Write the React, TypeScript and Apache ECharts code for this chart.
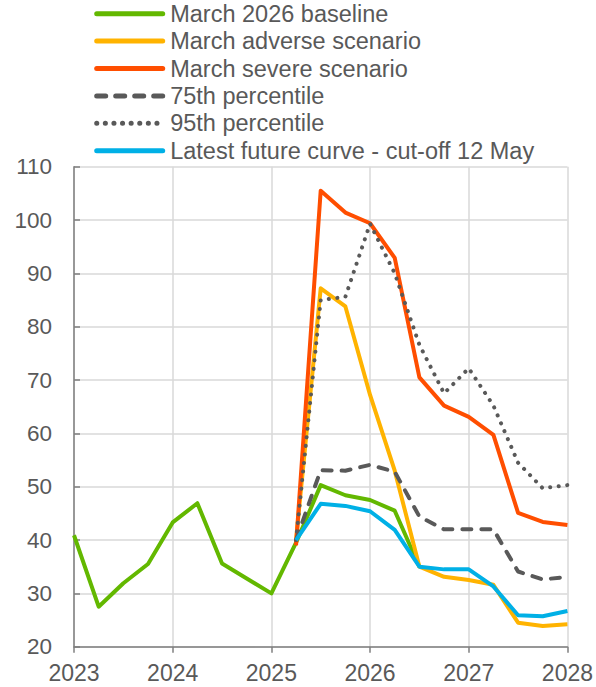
import React, { useEffect, useRef } from "react";
import * as echarts from "echarts";

const xQuarters = [
  2023, 2023.25, 2023.5, 2023.75, 2024, 2024.25, 2024.5, 2024.75, 2025, 2025.25,
  2025.5, 2025.75, 2026, 2026.25, 2026.5, 2026.75, 2027, 2027.25, 2027.5, 2027.75, 2028,
];

const baseline = [40.9, 27.5, 31.9, 35.5, 43.3, 46.9, 35.6, 32.8, 30.0, 39.5, 50.3, 48.4, 47.5, 45.5, 35.0, null, null, null, null, null, null];
const adverse = [null, null, null, null, null, null, null, null, null, 40.0, 87.2, 83.8, 67.2, 53.0, 35.0, 33.1, 32.5, 31.6, 24.5, 23.9, 24.2];
const severe = [null, null, null, null, null, null, null, null, null, 39.0, 105.5, 101.4, 99.4, 92.9, 70.5, 65.2, 63.1, 59.7, 45.1, 43.4, 42.8];
const p75 = [null, null, null, null, null, null, null, null, null, 40.0, 53.1, 53.0, 54.1, 52.8, 44.4, 42.0, 42.0, 42.0, 34.1, 32.6, 33.1];
const p95 = [null, null, null, null, null, null, null, null, null, 40.0, 85.0, 85.6, 99.3, 90.0, 76.6, 67.5, 72.2, 65.2, 54.5, 49.7, 50.3];
const futures = [null, null, null, null, null, null, null, null, null, 40.0, 46.8, 46.4, 45.4, 41.9, 35.0, 34.5, 34.5, 31.3, 25.9, 25.7, 26.7];

const seriesNames = [
  "March 2026 baseline",
  "March adverse scenario",
  "March severe scenario",
  "75th percentile",
  "95th percentile",
  "Latest future curve - cut-off 12 May",
];

const yTicks = { min: 20, max: 110, interval: 10 };
const xTicks = { min: 2023, max: 2028, interval: 1 };

const pair = (vals: (number | null)[]) => xQuarters.map((x, i) => [x, vals[i]]);

export default function App() {
  const ref = useRef<HTMLDivElement>(null);
  useEffect(() => {
    if (!ref.current) return;
    const chart = echarts.init(ref.current, undefined, { renderer: "svg" });
    const textColor = "#595959";
    const font = "'Liberation Sans', Arial, sans-serif";
    const mk = (name: string, vals: (number | null)[], color: string, type: any, cap: any = "round") => ({
      name,
      type: "line",
      data: pair(vals),
      symbol: "none",
      connectNulls: false,
      lineStyle: { color, width: 4, type, cap, join: "round" },
      itemStyle: { color },
    });
    chart.setOption({
      animation: false,
      backgroundColor: "#ffffff",
      textStyle: { fontFamily: font },
      legend: {
        orient: "vertical",
        left: 94.2,
        top: 0,
        padding: 0,
        itemWidth: 66,
        itemHeight: 1,
        itemGap: 0,
        itemStyle: { opacity: 0 },
        lineStyle: { width: 5, cap: "round" },
        textStyle: {
          color: textColor,
          fontSize: 23.5,
          fontFamily: font,
          lineHeight: 27.4,
          padding: [0, 0, 0, 2.5],
        },
        data: seriesNames,
      },
      grid: { left: 74, right: 25.3, top: 166.7, bottom: 40.3, containLabel: false },
      xAxis: {
        type: "value",
        min: xTicks.min,
        max: xTicks.max,
        interval: xTicks.interval,
        axisLine: { show: true, lineStyle: { color: "#7f7f7f", width: 1.5 } },
        axisTick: { show: true, length: 6, lineStyle: { color: "#7f7f7f", width: 1.5 } },
        axisLabel: { color: textColor, fontSize: 23, fontFamily: font, margin: 15, formatter: (v: number) => String(v) },
        splitLine: { show: true, lineStyle: { color: "#d9d9d9", width: 1.5 } },
      },
      yAxis: {
        type: "value",
        min: yTicks.min,
        max: yTicks.max,
        interval: yTicks.interval,
        axisLine: { show: true, lineStyle: { color: "#7f7f7f", width: 1.5 } },
        axisTick: { show: true, inside: true, length: 6, lineStyle: { color: "#7f7f7f", width: 1.5 } },
        axisLabel: { color: textColor, fontSize: 22.5, fontFamily: font, margin: 22 },
        splitLine: { show: true, lineStyle: { color: "#d9d9d9", width: 1.5 } },
      },
      series: [
        mk(seriesNames[0], baseline, "#63b800", "solid", "butt"),
        mk(seriesNames[1], adverse, "#ffb300", "solid", "butt"),
        mk(seriesNames[2], severe, "#ff4e00", "solid", "butt"),
        mk(seriesNames[3], p75, "#595959", [9, 10]),
        mk(seriesNames[4], p95, "#595959", [0.1, 8.5]),
        mk(seriesNames[5], futures, "#00b0e6", "solid", "butt"),
      ],
    });
    return () => chart.dispose();
  }, []);
  return (
    <div
      ref={ref}
      style={{ position: "absolute", left: 0, top: 0, width: 596, height: 687, background: "#fff" }}
    />
  );
}
